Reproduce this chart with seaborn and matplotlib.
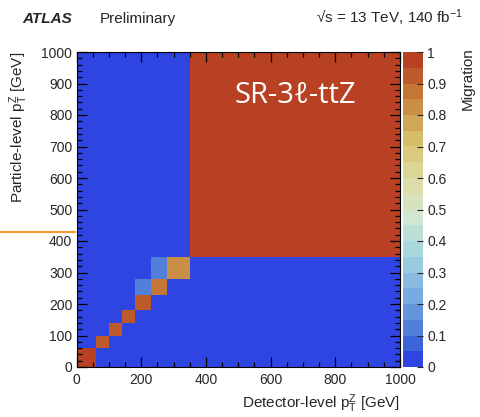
import numpy as np
import pandas as pd
import seaborn as sns
import matplotlib
matplotlib.use("Agg")
import matplotlib.pyplot as plt
from matplotlib.colors import LinearSegmentedColormap, ListedColormap
from matplotlib.ticker import MultipleLocator
from matplotlib.lines import Line2D

# ---------------- data ----------------
bin_edges = [0, 60, 100, 140, 180, 230, 280, 350, 1000]
# rows: particle-level bin (bottom -> top), cols: detector-level bin (left -> right)
migration = [
    [0.96, 0.04, 0.00, 0.00, 0.00, 0.00, 0.00, 0.00],
    [0.03, 0.91, 0.04, 0.00, 0.00, 0.00, 0.00, 0.00],
    [0.00, 0.04, 0.91, 0.04, 0.00, 0.00, 0.00, 0.00],
    [0.00, 0.00, 0.04, 0.91, 0.03, 0.00, 0.00, 0.00],
    [0.00, 0.00, 0.00, 0.04, 0.92, 0.03, 0.00, 0.00],
    [0.00, 0.00, 0.00, 0.00, 0.11, 0.86, 0.03, 0.00],
    [0.00, 0.00, 0.00, 0.00, 0.00, 0.12, 0.84, 0.02],
    [0.00, 0.00, 0.00, 0.00, 0.00, 0.00, 0.02, 0.97],
]
x_label = r"Detector-level p$_{\mathrm{T}}^{\mathrm{Z}}$ [GeV]"
y_label = r"Particle-level p$_{\mathrm{T}}^{\mathrm{Z}}$ [GeV]"
cbar_label = "Migration"
region_label = "SR-3ℓ-ttZ"
cbar_ticks = [0, 0.1, 0.2, 0.3, 0.4, 0.5, 0.6, 0.7, 0.8, 0.9, 1]
cbar_ticklabels = ["0", "0.1", "0.2", "0.3", "0.4", "0.5", "0.6", "0.7", "0.8", "0.9", "1"]

# ---------------- long-form table ----------------
edges = np.asarray(bin_edges, dtype=float)
centers = 0.5 * (edges[:-1] + edges[1:])
rows = []
for i, yc in enumerate(centers):
    for j, xc in enumerate(centers):
        rows.append({"detector": xc, "particle": yc, "value": migration[i][j]})
df = pd.DataFrame(rows)

# ---------------- style ----------------
sns.set_style("ticks")
plt.rcParams["font.family"] = ["Liberation Sans", "DejaVu Sans"]
plt.rcParams["mathtext.fontset"] = "custom"
plt.rcParams["mathtext.rm"] = "Liberation Sans"
plt.rcParams["mathtext.it"] = "Liberation Sans:italic"
plt.rcParams["mathtext.bf"] = "Liberation Sans:bold"
plt.rcParams["font.size"] = 10
plt.rcParams["axes.axisbelow"] = False

# ROOT kLightTemperature palette, 20 contour levels
stops = [0, .125, .25, .375, .5, .625, .75, .875, 1]
red = [31, 71, 123, 160, 210, 222, 214, 199, 183]
green = [40, 117, 171, 211, 231, 220, 190, 132, 65]
blue = [234, 214, 228, 222, 210, 160, 105, 60, 34]
base = LinearSegmentedColormap.from_list(
    "lighttemp",
    [(s, (r / 255, g / 255, b / 255)) for s, r, g, b in zip(stops, red, green, blue)],
)
nlev = 20
cmap = ListedColormap([base(min((i + 0.99) / nlev, 1.0)) for i in range(nlev)])

W, H = 481, 417
fig = plt.figure(figsize=(W / 100, H / 100), dpi=100)
ax = fig.add_axes([76.5 / W, 1 - 367 / H, 323.5 / W, 315 / H])
cax = fig.add_axes([403 / W, 1 - 367 / H, 20 / W, 315 / H])

sns.histplot(
    data=df, x="detector", y="particle", weights="value",
    bins=bin_edges, thresh=None, cmap=cmap, vmin=0, vmax=1,
    cbar=False, ax=ax, linewidth=0,
)
mesh = ax.collections[0]
ax.set_axisbelow(False)

ax.set_xlim(0, 1000)
ax.set_ylim(0, 1000)
ax.xaxis.set_major_locator(MultipleLocator(200))
ax.xaxis.set_minor_locator(MultipleLocator(50))
ax.yaxis.set_major_locator(MultipleLocator(100))
ax.yaxis.set_minor_locator(MultipleLocator(20))
ax.tick_params(which="both", direction="in", top=True, right=True, color="black",
               labelsize=10, width=0.9)
ax.tick_params(which="major", length=7.2)
ax.tick_params(which="minor", length=3.6)
ax.tick_params(axis="x", pad=4)
ax.tick_params(axis="y", pad=3)
for sp in ax.spines.values():
    sp.set_visible(True)
    sp.set_color("black")
    sp.set_linewidth(0.8)

ax.set_xlabel(x_label, loc="right", fontsize=11)
ax.xaxis.set_label_coords(1.0, -0.08)
ax.set_ylabel(y_label, loc="top", fontsize=11)
ax.yaxis.set_label_coords(-0.145, 1.0)

ax.text(0.487, 0.838, region_label, transform=ax.transAxes, ha="left", va="baseline",
        color="white", fontsize=21, family=["Open Sans", "DejaVu Sans"])

cb = fig.colorbar(mesh, cax=cax)
cb.outline.set_visible(False)
cb.set_ticks(cbar_ticks)
cb.set_ticklabels(cbar_ticklabels)
cax.set_axisbelow(False)
cax.tick_params(direction="in", length=4, width=0.8, pad=3, labelsize=10, right=True)
cax.minorticks_off()
cb.set_label(cbar_label, loc="top", fontsize=11)
cax.yaxis.set_label_coords(2.9, 1.014)

# header
fig.text(22 / W, 1 - 23 / H, "ATLAS", fontsize=11, fontweight="bold", fontstyle="italic",
         va="baseline", ha="left")
fig.text(100 / W, 1 - 23 / H, "Preliminary", fontsize=11, va="baseline", ha="left")
fig.text(463 / W, 1 - 23 / H, "√s = 13 TeV, 140 fb$^{-1}$", fontsize=11, va="baseline",
         ha="right")

# orange marker line on the left edge of the slide
fig.add_artist(Line2D([0, 75 / W], [1 - 232 / H, 1 - 232 / H], color="#f39a2e", lw=1.5))

fig.savefig("out.png", dpi=100)
